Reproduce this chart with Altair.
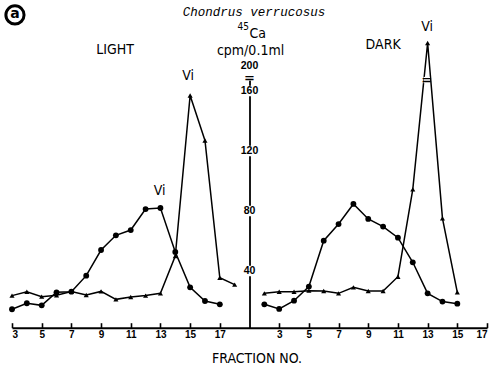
import altair as alt
import pandas as pd

# ---------------- data ----------------
# LIGHT panel
light_frac_circle = list(range(3, 18))
light_circle = [14.5, 18.5, 17.1, 25.8, 26.2, 36.9, 54.0, 63.8, 67.3, 81.3, 82.0, 52.7, 29.1, 20.0, 17.8]
light_frac_tri = list(range(3, 19))
light_tri = [23.6, 26.2, 22.9, 23.8, 26.4, 24.0, 26.4, 21.1, 22.7, 23.6, 25.1, 50.0, 157.0, 127.0, 35.5, 30.9]
# DARK panel (peak at fraction 13 lies above the axis break; value given in displayed units)
dark_frac = list(range(2, 16))
dark_circle = [17.8, 14.7, 20.2, 29.6, 60.2, 71.3, 84.7, 74.7, 69.6, 62.2, 45.8, 25.1, 19.6, 18.2]
dark_tri = [25.1, 26.2, 26.2, 26.9, 26.7, 25.1, 29.1, 26.7, 26.7, 36.2, 94.4, 192.0, 75.1, 25.8]

DARK_SHIFT = 18          # the DARK panel is drawn to the right of the shared y axis
AXIS_POS = 19            # position of the central y axis on the combined x scale

x_tick_values = [3, 5, 7, 9, 11, 13, 15, 17, 21, 23, 25, 27, 29, 31, 33, 35]
y_tick_values = [40, 80, 120, 160]
y_tick_labels = ["40", "80", "120", "160"]

rows = []
for f, v in zip(light_frac_circle, light_circle):
    rows.append(dict(grp="L-c", series="circle", pos=f, value=v))
for f, v in zip(light_frac_tri, light_tri):
    rows.append(dict(grp="L-t", series="triangle", pos=f, value=v))
for f, v in zip(dark_frac, dark_circle):
    rows.append(dict(grp="D-c", series="circle", pos=f + DARK_SHIFT, value=v))
for f, v in zip(dark_frac, dark_tri):
    rows.append(dict(grp="D-t", series="triangle", pos=f + DARK_SHIFT, value=v))
df = pd.DataFrame(rows)

W, H = 475, 249.7
X_DOMAIN = [3, 35]
Y_DOMAIN = [2.2, 168.67]

x_axis = alt.Axis(
    orient="top", offset=-H, values=x_tick_values,
    labelExpr="datum.value > 19 ? datum.value - 18 : datum.value",
    tickSize=5, tickWidth=1.6, tickColor="black",
    domainColor="black", domainWidth=2,
    labelPadding=-7, labelBaseline="top", labelFont="Liberation Sans",
    labelFontWeight="bold", labelFontSize=10, labelColor="black",
    title=None, grid=False,
)
y_axis = alt.Axis(
    orient="left", offset=-(AXIS_POS - X_DOMAIN[0]) / (X_DOMAIN[1] - X_DOMAIN[0]) * W,
    labels=False, ticks=False, domainColor="black", domainWidth=1.8,
    title=None, grid=False,
)

X = alt.X("pos:Q", scale=alt.Scale(domain=X_DOMAIN, nice=False, zero=False), axis=x_axis)
Y = alt.Y("value:Q", scale=alt.Scale(domain=Y_DOMAIN, nice=False, zero=False), axis=y_axis)

base = alt.Chart(df)
lines = base.mark_line(color="black", strokeWidth=1.5).encode(x=X, y=Y, detail="grp:N")
circles = base.transform_filter("datum.series == 'circle'").mark_point(
    shape="circle", filled=True, color="black", size=34, opacity=1).encode(x=X, y=Y)
tris = base.transform_filter("datum.series == 'triangle'").mark_point(
    shape="triangle-up", filled=True, color="black", size=26, opacity=1).encode(x=X, y=Y)

# ---------------- annotations ----------------
ylab_df = pd.DataFrame({"pos": [AXIS_POS] * 5,
                        "value": y_tick_values + [177.0],
                        "text": y_tick_labels + ["200"]})
# white patches that interrupt the central axis line behind its labels
ylab_gap = alt.Chart(ylab_df).mark_point(
    shape="square", filled=True, color="white", size=110, opacity=1).encode(x=X, y=Y)
ylab = alt.Chart(ylab_df).mark_text(
    font="Liberation Sans", fontWeight="bold", fontSize=10.5, color="black",
    baseline="middle").encode(x=X, y=Y, text="text:N")

# axis-break sign on the y axis and on the DARK peak line
brk_df = pd.DataFrame({"pos": [AXIS_POS, 30.94], "value": [169.0, 167.3], "text": ["=", "="]})
brk_gap = alt.Chart(brk_df).mark_point(
    shape="square", filled=True, color="white", size=40, opacity=1).encode(x=X, y=Y)
brk = alt.Chart(brk_df).mark_text(
    font="DejaVu Sans", fontWeight="bold", fontSize=13, color="black",
    baseline="middle").encode(x=X, y=Y, text="text:N")

NARROW = "Liberation Sans Narrow, DejaVu Sans Condensed, Arial Narrow, sans-serif"

title_df = pd.DataFrame({"pos": [19.3], "value": [212.7], "text": ["Chondrus verrucosus"]})
title = alt.Chart(title_df).mark_text(
    font="Liberation Mono", fontStyle="italic", fontSize=12.5, color="black",
    baseline="middle").encode(x=X, y=Y, text="text:N")

panel_df = pd.DataFrame({"pos": [9.94, 28.0], "value": [187.3, 190.7], "text": ["LIGHT", "DARK"]})
panel = alt.Chart(panel_df).mark_text(
    font=NARROW, fontSize=14, color="black", baseline="middle").encode(x=X, y=Y, text="text:N")

vi_df = pd.DataFrame({"pos": [12.94, 14.86, 30.97], "value": [93.3, 170.0, 203.0], "text": ["Vi", "Vi", "Vi"]})
vi = alt.Chart(vi_df).mark_text(
    font=NARROW, fontSize=14, color="black", baseline="middle").encode(x=X, y=Y, text="text:N")

ytitle_big_df = pd.DataFrame({"pos": [19.56, 19.07], "value": [198.3, 186.7], "text": ["Ca", "cpm/0.1ml"]})
ytitle_big = alt.Chart(ytitle_big_df).mark_text(
    font=NARROW, fontSize=14, color="black", baseline="middle").encode(x=X, y=Y, text="text:N")
ytitle_sup_df = pd.DataFrame({"pos": [18.58], "value": [202.7], "text": ["45"]})
ytitle_sup = alt.Chart(ytitle_sup_df).mark_text(
    font=NARROW, fontSize=10, color="black", baseline="middle").encode(x=X, y=Y, text="text:N")

xtitle_df = pd.DataFrame({"pos": [19.51], "value": [-19.0], "text": ["FRACTION NO."]})
xtitle = alt.Chart(xtitle_df).mark_text(
    font=NARROW, fontSize=14, color="black", baseline="middle").encode(x=X, y=Y, text="text:N")

badge_df = pd.DataFrame({"pos": [3.2], "value": [210.7], "text": ["a"]})
badge_ring = alt.Chart(badge_df).mark_point(
    shape="circle", filled=False, color="black", strokeWidth=3, size=330, opacity=1).encode(x=X, y=Y)
badge_txt = alt.Chart(badge_df).mark_text(
    font="DejaVu Sans", fontWeight="bold", fontSize=14, color="black",
    baseline="middle", dy=-1).encode(x=X, y=Y, text="text:N")

chart = alt.layer(
    lines, circles, tris,
    ylab_gap, ylab, brk_gap, brk,
    title, panel, vi, ytitle_big, ytitle_sup, xtitle, badge_ring, badge_txt,
).properties(
    width=W, height=H,
    autosize=alt.AutoSizeParams(type="none"),
    padding={"left": 12, "top": 78, "right": 6, "bottom": 44.3},
).configure(background="white").configure_view(strokeWidth=0, stroke="transparent")

chart.save("out.html", embed_options={"renderer": "svg", "actions": False})
